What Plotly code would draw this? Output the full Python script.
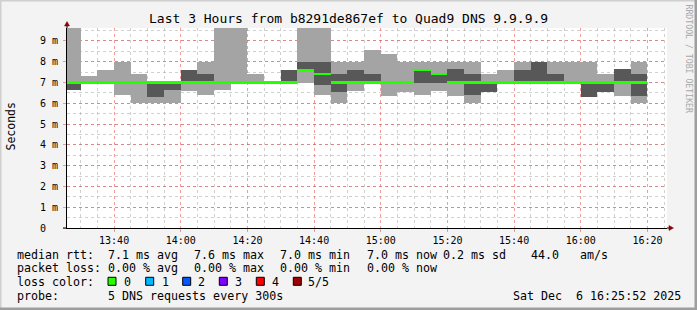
import plotly.graph_objects as go
from datetime import datetime, timedelta

# ---------------- data ----------------
DAY = "2025-12-06"
step_end = ["13:30", "13:35", "13:40", "13:45", "13:50", "13:55", "14:00",
            "14:05", "14:10", "14:15", "14:20", "14:25", "14:30", "14:35",
            "14:40", "14:45", "14:50", "14:55", "15:00", "15:05", "15:10",
            "15:15", "15:20", "15:25", "15:30", "15:35", "15:40", "15:45",
            "15:50", "15:55", "16:00", "16:05", "16:10", "16:15", "16:20"]
# sorted ping times per 5-minute step (ms)
ping_min = [6.65, 7.0, 7.0, 6.42, 6.0, 6.0, 6.0, 6.6, 6.42, 6.65, 7.0, 7.0,
            7.0, 7.0, 7.0, 6.42, 6.0, 6.6, 7.0, 6.36, 6.55, 6.41, 6.6, 6.36,
            6.0, 6.55, 7.0, 7.0, 7.0, 7.0, 7.0, 6.31, 6.55, 6.36, 6.0]
ping_2nd = [6.65, 7.0, 7.0, 7.0, 7.0, 6.3, 6.65, 7.0, 7.0, 7.0, 7.0, 7.0,
            7.0, 7.0, 7.62, 6.86, 6.55, 7.0, 7.0, 7.0, 7.0, 7.0, 7.0, 7.0,
            6.42, 6.55, 7.0, 7.0, 7.0, 7.0, 7.0, 6.31, 6.55, 7.0, 6.37]
median = [7.0, 7.0, 7.0, 7.0, 7.0, 7.0, 7.0, 7.0, 7.0, 7.0, 7.0, 7.0,
          7.0, 7.0, 7.62, 7.41, 7.0, 7.0, 7.0, 7.0, 7.0, 7.6, 7.41, 7.0,
          7.0, 7.0, 7.0, 7.0, 7.0, 7.0, 7.0, 7.0, 7.0, 7.0, 7.0]
ping_4th = [7.0, 7.0, 7.0, 7.0, 7.0, 7.0, 7.0, 7.6, 7.41, 7.0, 7.0, 7.0,
            7.0, 7.6, 8.0, 8.0, 7.41, 7.6, 7.41, 7.0, 7.0, 7.6, 7.41, 7.65,
            7.41, 7.0, 7.0, 7.6, 8.0, 7.41, 7.0, 7.0, 7.0, 7.65, 7.41]
ping_max = [10.0, 7.3, 7.6, 8.0, 7.41, 7.0, 7.0, 7.6, 8.0, 10.0, 10.0, 7.41,
            7.0, 7.6, 10.0, 10.0, 8.0, 8.0, 8.56, 8.37, 8.0, 8.0, 8.0, 8.0,
            8.0, 7.41, 7.6, 8.0, 8.0, 8.0, 8.0, 8.0, 7.41, 7.65, 8.0]

y_tick_vals = [0, 1, 2, 3, 4, 5, 6, 7, 8, 9]
y_tick_text = ["0\u00a0\u00a0", "1 m", "2 m", "3 m", "4 m", "5 m", "6 m",
               "7 m", "8 m", "9 m"]

loss_labels = ["0", "1", "2", "3", "4", "5/5"]
loss_colors = ["#26ff00", "#00b8ff", "#0059ff", "#7e00ff", "#ff0000", "#a00000"]

title_text = "Last 3 Hours from b8291de867ef to Quad9 DNS 9.9.9.9"
legend_rows = [
    ["median rtt:", "7.1 ms avg", "7.6 ms max", "7.0 ms min", "7.0 ms now",
     "0.2 ms sd", "44.0", "am/s"],
    ["packet loss:", "0.00 % avg", "0.00 % max", "0.00 % min", "0.00 % now"],
]
probe_text = "5 DNS requests every 300s"
stamp_text = "Sat Dec\u00a0\u00a06 16:25:52 2025"
range_start = DAY + " 13:25:52"
range_end = DAY + " 16:25:52"

# ---------------- layout helpers ----------------
W, H = 697, 310
L, T, PW, PH = 67, 28, 600, 200
Y_MAX = 9.625
MONO = "DejaVu Sans Mono"


def px(x):
    return (x - L) / PW


def py(y):
    return (T + PH - y) / PH


STEP = timedelta(minutes=5)
centers = [datetime.strptime(DAY + " " + t, "%Y-%m-%d %H:%M") - STEP / 2
           for t in step_end]

LIGHT = "#a4a4a4"
DARK = "#585858"
GREEN = loss_colors[0]
HALF = 0.055

fig = go.Figure()
fig.add_trace(go.Bar(
    x=centers, base=ping_min, y=[b - a for a, b in zip(ping_min, ping_max)],
    width=300000, marker=dict(color=LIGHT, line=dict(width=0)),
    hoverinfo="skip", showlegend=False))
fig.add_trace(go.Bar(
    x=centers, base=ping_2nd, y=[b - a for a, b in zip(ping_2nd, ping_4th)],
    width=300000, marker=dict(color=DARK, line=dict(width=0)),
    hoverinfo="skip", showlegend=False))
fig.add_trace(go.Bar(
    x=centers, base=[m - HALF for m in median], y=[2 * HALF] * len(median),
    width=300000, marker=dict(color=GREEN, line=dict(width=0)),
    hoverinfo="skip", showlegend=False))

MAJOR = "rgba(222,80,80,0.55)"
MINOR = "rgba(150,150,150,0.45)"

fig.update_layout(
    width=W, height=H, autosize=False,
    margin=dict(l=L, r=W - L - PW, t=T, b=H - T - PH, pad=0),
    paper_bgcolor="#f3f3f3", plot_bgcolor="#ffffff",
    barmode="overlay", bargap=0,
    font=dict(family=MONO, color="#000000", size=10),
    xaxis=dict(
        type="date", range=[range_start, range_end],
        tick0=DAY + " 13:40:00", dtick=1200000, tickformat="%H:%M",
        showgrid=True, gridcolor=MAJOR, griddash="dot", gridwidth=1,
        minor=dict(dtick=300000, tick0=DAY + " 13:30:00", showgrid=True,
                   gridcolor=MINOR, griddash="dot", gridwidth=1),
        ticks="outside", ticklen=3, tickcolor=MAJOR,
        showline=True, linecolor="#000000", linewidth=1,
        zeroline=False, tickfont=dict(family=MONO, size=10),
        fixedrange=True,
    ),
    yaxis=dict(
        range=[0, Y_MAX], tickvals=y_tick_vals, ticktext=y_tick_text,
        showgrid=True, gridcolor=MAJOR, griddash="dot", gridwidth=1,
        minor=dict(dtick=0.5, tick0=0, showgrid=True, gridcolor=MINOR,
                   griddash="dot", gridwidth=1),
        ticks="outside", ticklen=3, tickcolor=MAJOR,
        ticklabelstandoff=3,
        showline=True, linecolor="#000000", linewidth=1,
        zeroline=False, tickfont=dict(family=MONO, size=10),
        fixedrange=True,
    ),
)

ann = []
ann.append(dict(text=title_text, x=px(348.5), y=py(18.5), xref="paper",
                yref="paper", showarrow=False, xanchor="center",
                yanchor="middle", font=dict(family=MONO, size=13)))
ann.append(dict(text="Seconds", x=px(10), y=py(126.5), xref="paper",
                yref="paper", showarrow=False, xanchor="center",
                yanchor="middle", textangle=-90,
                font=dict(family=MONO, size=11.5)))
ann.append(dict(text="RRDTOOL / TOBI OETIKER", x=px(688.5), y=py(59),
                xref="paper", yref="paper", showarrow=False,
                xanchor="center", yanchor="middle", textangle=90,
                font=dict(family=MONO, size=8.2, color="#a8a8a8")))

LEG_FONT = dict(family=MONO, size=11.65)
row_y = [254.7, 268.3, 282.3, 296.3]
col_x = [16, 107.3, 193.3, 279.3, 366, 441.7, 530, 579.3]
for r, row in enumerate(legend_rows):
    for c, txt in enumerate(row):
        ann.append(dict(text=txt, x=px(col_x[c] - 1), y=py(row_y[r]),
                        xref="paper", yref="paper", showarrow=False,
                        xanchor="left", yanchor="middle", font=LEG_FONT))
ann.append(dict(text="loss color:", x=px(15), y=py(row_y[2]), xref="paper",
                yref="paper", showarrow=False, xanchor="left",
                yanchor="middle", font=LEG_FONT))
sw_x = [108, 145.7, 182.7, 219.3, 256.3, 293.3]
lab_x = [123.3, 160.7, 197.3, 234.3, 270.7, 307.3]
shapes = []
for i, (lab, col) in enumerate(zip(loss_labels, loss_colors)):
    shapes.append(dict(type="rect", xref="paper", yref="paper",
                       x0=px(sw_x[i]), x1=px(sw_x[i] + 8),
                       y0=py(285.3), y1=py(277.3), fillcolor=col,
                       line=dict(color="#000000", width=1)))
    ann.append(dict(text=lab, x=px(lab_x[i] - 1), y=py(row_y[2]),
                    xref="paper", yref="paper", showarrow=False,
                    xanchor="left", yanchor="middle", font=LEG_FONT))
ann.append(dict(text="probe:", x=px(15), y=py(row_y[3]), xref="paper",
                yref="paper", showarrow=False, xanchor="left",
                yanchor="middle", font=LEG_FONT))
ann.append(dict(text=probe_text, x=px(106.3), y=py(row_y[3]), xref="paper",
                yref="paper", showarrow=False, xanchor="left",
                yanchor="middle", font=LEG_FONT))
ann.append(dict(text=stamp_text, x=px(682.7), y=py(row_y[3]), xref="paper",
                yref="paper", showarrow=False, xanchor="right",
                yanchor="middle", font=LEG_FONT))

# frame shading
shapes += [
    dict(type="rect", xref="paper", yref="paper", x0=px(0), x1=px(W),
         y0=py(0), y1=py(1.5), fillcolor="#cfcfcf", line=dict(width=0)),
    dict(type="rect", xref="paper", yref="paper", x0=px(0), x1=px(1.5),
         y0=py(0), y1=py(H), fillcolor="#cfcfcf", line=dict(width=0)),
    dict(type="rect", xref="paper", yref="paper", x0=px(0), x1=px(W),
         y0=py(H - 2.5), y1=py(H), fillcolor="#9e9e9e", line=dict(width=0)),
    dict(type="rect", xref="paper", yref="paper", x0=px(W - 2.5), x1=px(W),
         y0=py(0), y1=py(H), fillcolor="#9e9e9e", line=dict(width=0)),
]
# axis extensions and arrows
ARROW = "#8b0000"
shapes += [
    dict(type="line", xref="paper", yref="paper", x0=px(L), x1=px(L),
         y0=py(T), y1=py(24), line=dict(color="#000000", width=1)),
    dict(type="line", xref="paper", yref="paper", x0=px(L + PW), x1=px(670),
         y0=py(T + PH), y1=py(T + PH), line=dict(color="#000000", width=1)),
    dict(type="line", xref="paper", yref="paper", x0=px(63), x1=px(L),
         y0=py(T + PH), y1=py(T + PH), line=dict(color="#000000", width=1)),
    dict(type="path", xref="paper", yref="paper",
         path="M {} {} L {} {} L {} {} Z".format(px(64.5), py(26), px(69.5),
                                                 py(26), px(67), py(21.5)),
         fillcolor=ARROW, line=dict(color=ARROW, width=0.5)),
    dict(type="path", xref="paper", yref="paper",
         path="M {} {} L {} {} L {} {} Z".format(px(669), py(225.5), px(669),
                                                 py(230.5), px(673.5), py(228)),
         fillcolor=ARROW, line=dict(color=ARROW, width=0.5)),
]

fig.update_layout(annotations=ann, shapes=shapes)
fig.write_html("out.html", config={"displayModeBar": False})
